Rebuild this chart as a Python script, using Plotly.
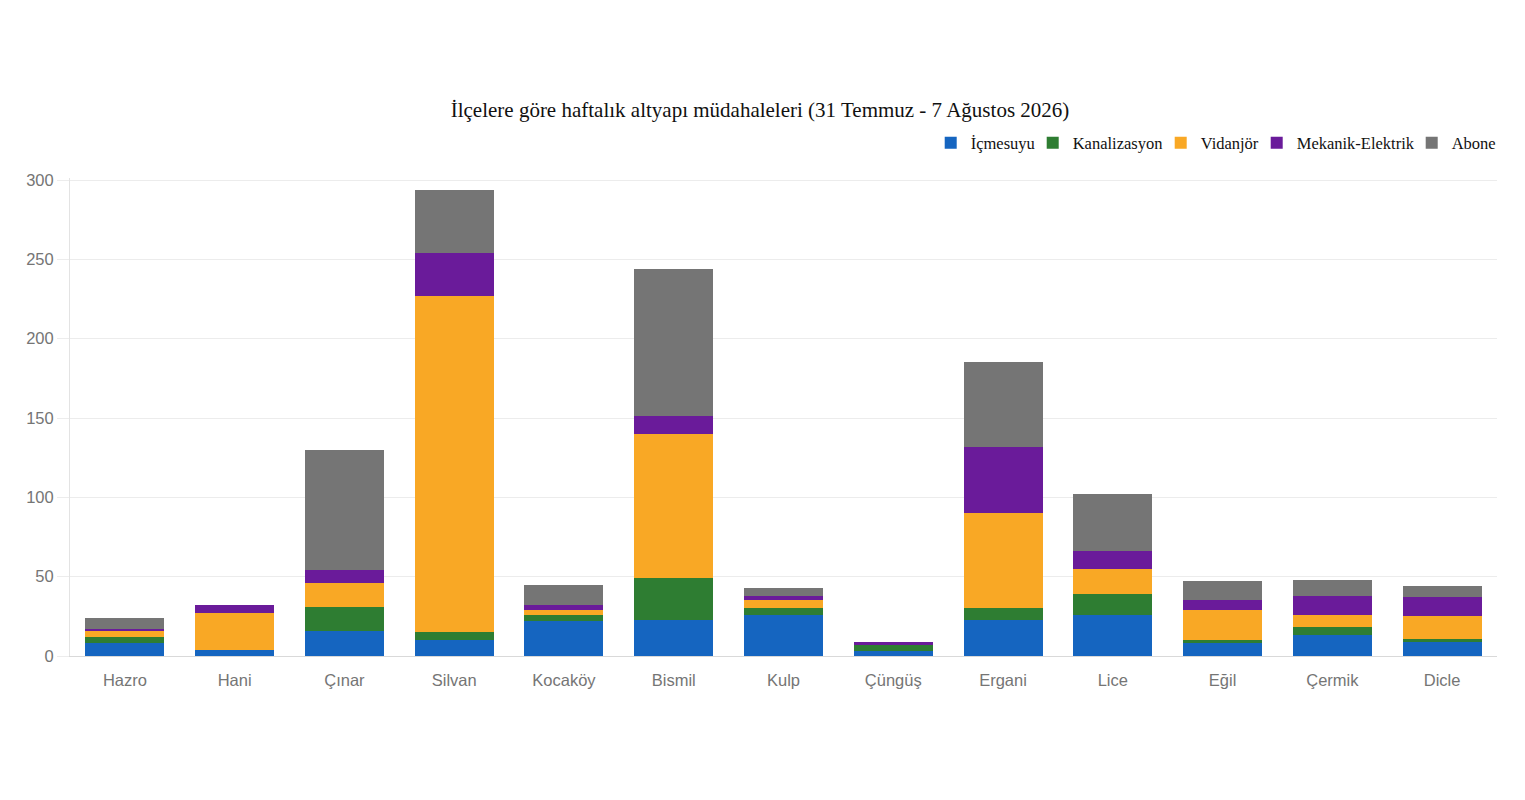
"""Stacked weekly infrastructure interventions per district."""

import plotly.graph_objects as go

DISTRICTS = ["Hazro", "Hani", "Çınar", "Silvan", "Kocaköy", "Bismil", "Kulp",
             "Çüngüş", "Ergani", "Lice", "Eğil", "Çermik", "Dicle"]
ICMESUYU = [8, 4, 16, 10, 22, 23, 26, 3, 23, 26, 8, 13, 9]
KANALIZASYON = [4, 0, 15, 5, 4, 26, 4, 4, 7, 13, 2, 5, 2]
VIDANJOR = [4, 23, 15, 212, 3, 91, 5, 0, 60, 16, 19, 8, 14]
MEKANIK = [1, 5, 8, 27, 3, 11, 3, 2, 42, 11, 6, 12, 12]
ABONE = [7, 0, 76, 40, 13, 93, 5, 0, 53, 36, 12, 10, 7]

# name, values, colour, legend entry width (tighter than plotly's default)
SERIES = [
    ("İçmesuyu", ICMESUYU, "#1565c0", 57),
    ("Kanalizasyon", KANALIZASYON, "#2e7d32", 83),
    ("Vidanjör", VIDANJOR, "#f9a825", 51),
    ("Mekanik-Elektrik", MEKANIK, "#6a1b9a", 110),
    ("Abone", ABONE, "#757575", 46),
]
TITLE = "İlçelere göre haftalık altyapı müdahaleleri (31 Temmuz - 7 Ağustos 2026)"

fig = go.Figure()
for name, values, color, entry_width in SERIES:
    fig.add_trace(go.Bar(x=DISTRICTS, y=values, name=name, marker_color=color,
                         marker_line_width=0, legendwidth=entry_width))

# the page body adds 8px around the plot, margins below allow for that
fig.update_layout(
    barmode="stack",
    bargap=0.28,
    width=1525,
    height=800,
    margin=dict(l=62, r=36, t=170, b=152, autoexpand=False),
    paper_bgcolor="white",
    plot_bgcolor="white",
    title=dict(
        text=TITLE,
        x=752 / 1525,
        xanchor="center",
        y=1 - 102 / 800,
        yanchor="middle",
        font=dict(family="Liberation Serif", size=21, color="#111111"),
    ),
    legend=dict(
        orientation="h",
        x=1.004,
        xanchor="right",
        y=1.0732,
        yanchor="middle",
        font=dict(family="Liberation Serif", size=16.5, color="#111111"),
        traceorder="normal",
    ),
    xaxis=dict(
        showgrid=False,
        showline=True,
        linecolor="#d9d9d9",
        ticks="outside",
        ticklen=9,
        tickcolor="white",
        tickfont=dict(family="Liberation Sans", size=16.5, color="#757575"),
    ),
    yaxis=dict(
        # slightly above 300 so the top gridline is still drawn
        range=[0, 301.26],
        tick0=0,
        dtick=50,
        gridcolor="#ececec",
        zeroline=False,
        showline=True,
        linecolor="#e3e3e3",
        ticks="outside",
        ticklen=12,
        tickcolor="#ececec",
        tickfont=dict(family="Liberation Sans", size=16.5, color="#757575"),
    ),
)

fig.write_html("out.html")
